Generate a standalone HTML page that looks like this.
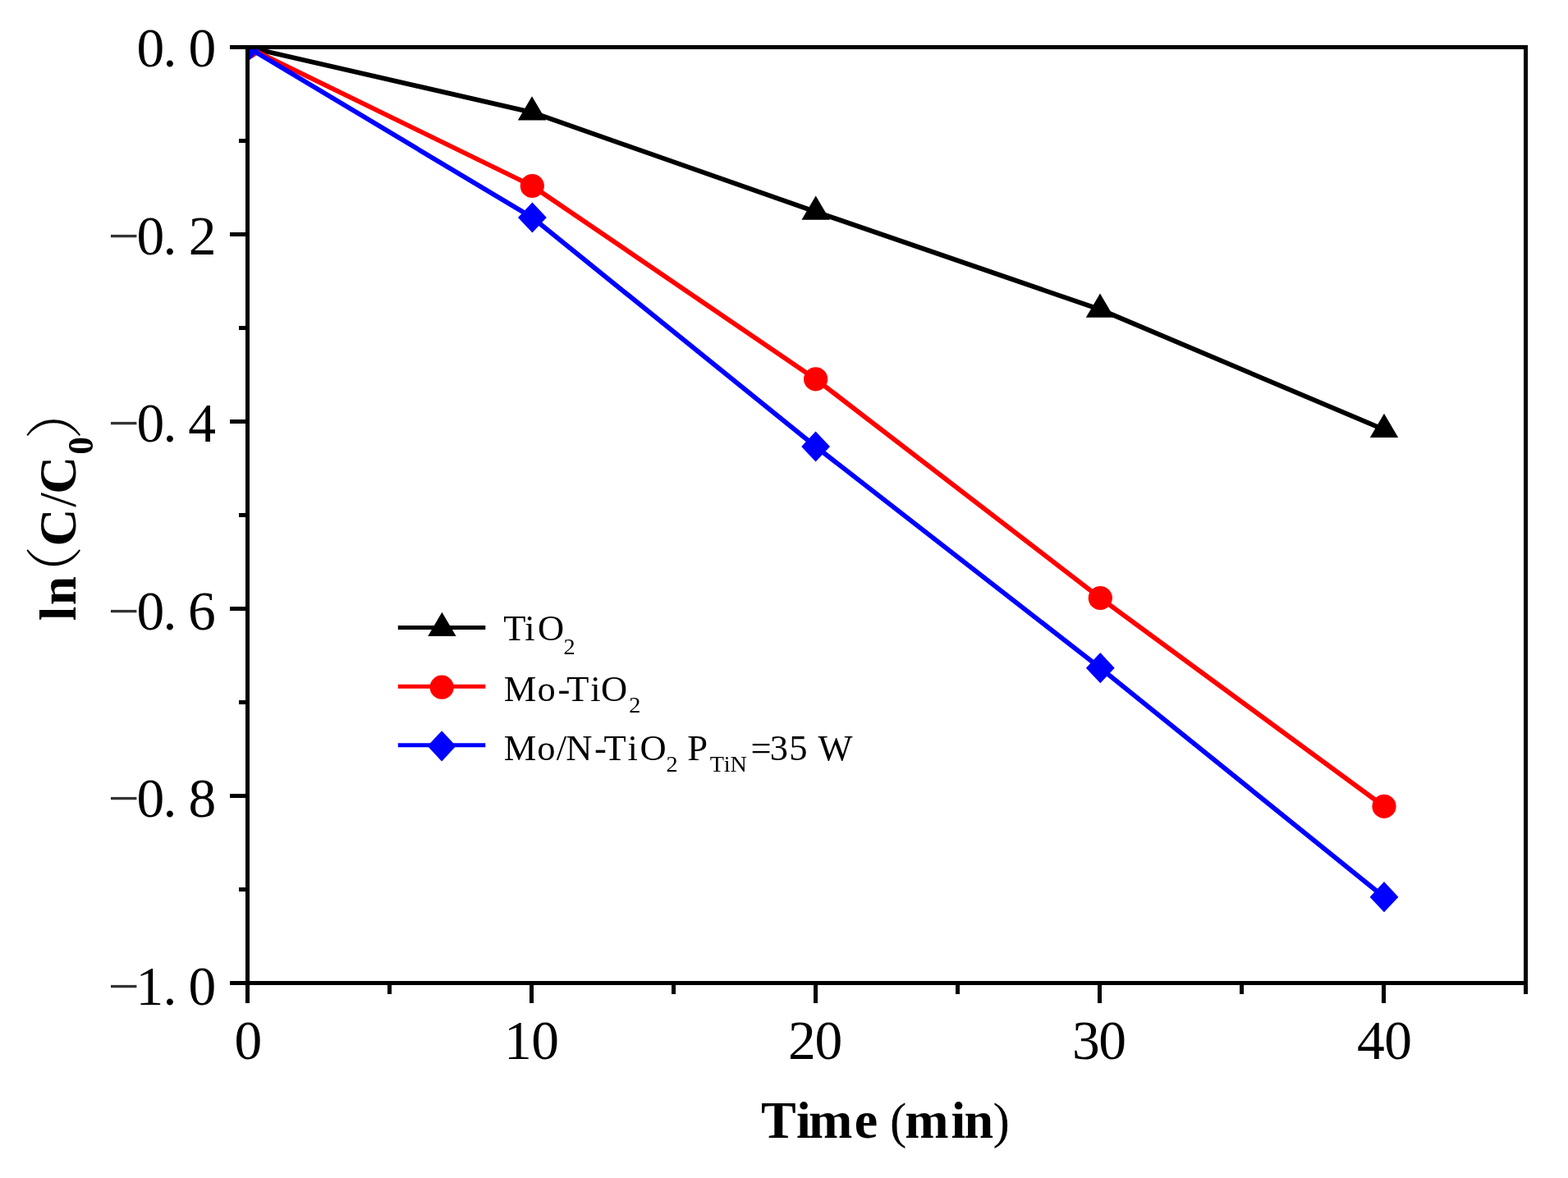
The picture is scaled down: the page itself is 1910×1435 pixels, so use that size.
<!DOCTYPE html>
<html><head><meta charset="utf-8"><title>ln(C/C0) vs Time</title>
<style>html,body{margin:0;padding:0;background:#fff;overflow:hidden;}svg{display:block;}</style>
</head><body>
<svg width="1910" height="1435" viewBox="0 0 1910 1435"><defs><clipPath id="pa"><rect x="301.5" y="57.5" width="1557" height="1140"/></clipPath></defs>
<g clip-path="url(#pa)">
<polyline points="301.5,57.5 648.0,136.8 993.7,258.0 1340.0,377.0 1686.0,523.3" fill="none" stroke="#000" stroke-width="5.8" stroke-linejoin="round"/>
<polygon points="301.5,38.0 284.3,67.2 318.7,67.2" fill="#000"/>
<polygon points="648.0,117.3 630.8,146.5 665.2,146.5" fill="#000"/>
<polygon points="993.7,238.5 976.5,267.7 1010.9,267.7" fill="#000"/>
<polygon points="1340.0,357.5 1322.8,386.7 1357.2,386.7" fill="#000"/>
<polygon points="1686.0,503.8 1668.8,533.0 1703.2,533.0" fill="#000"/>
<polyline points="301.5,57.5 648.3,226.5 993.6,461.8 1340.3,728.5 1686.0,982.3" fill="none" stroke="#f00" stroke-width="5.8" stroke-linejoin="round"/>
<circle cx="301.5" cy="57.5" r="14.6" fill="#f00"/>
<circle cx="648.3" cy="226.5" r="14.6" fill="#f00"/>
<circle cx="993.6" cy="461.8" r="14.6" fill="#f00"/>
<circle cx="1340.3" cy="728.5" r="14.6" fill="#f00"/>
<circle cx="1686.0" cy="982.3" r="14.6" fill="#f00"/>
<polyline points="301.5,57.5 648.4,265.0 993.6,544.0 1340.3,813.7 1686.0,1092.7" fill="none" stroke="#00f" stroke-width="5.8" stroke-linejoin="round"/>
<polygon points="301.5,38.9 318.9,57.5 301.5,76.1 284.1,57.5" fill="#00f"/>
<polygon points="648.4,246.4 665.8,265.0 648.4,283.6 631.0,265.0" fill="#00f"/>
<polygon points="993.6,525.4 1011.0,544.0 993.6,562.6 976.2,544.0" fill="#00f"/>
<polygon points="1340.3,795.1 1357.7,813.7 1340.3,832.3 1322.9,813.7" fill="#00f"/>
<polygon points="1686.0,1074.1 1703.4,1092.7 1686.0,1111.3 1668.6,1092.7" fill="#00f"/>
</g>
<g stroke="#000" stroke-width="5" fill="none" shape-rendering="crispEdges">
<rect x="301.5" y="57.5" width="1557.0" height="1140.0"/>
<line x1="280" y1="57.5" x2="301.5" y2="57.5"/>
<line x1="291" y1="171.5" x2="301.5" y2="171.5"/>
<line x1="280" y1="285.5" x2="301.5" y2="285.5"/>
<line x1="291" y1="399.5" x2="301.5" y2="399.5"/>
<line x1="280" y1="513.5" x2="301.5" y2="513.5"/>
<line x1="291" y1="627.5" x2="301.5" y2="627.5"/>
<line x1="280" y1="741.5" x2="301.5" y2="741.5"/>
<line x1="291" y1="855.5" x2="301.5" y2="855.5"/>
<line x1="280" y1="969.5" x2="301.5" y2="969.5"/>
<line x1="291" y1="1083.5" x2="301.5" y2="1083.5"/>
<line x1="280" y1="1197.5" x2="301.5" y2="1197.5"/>
<line x1="301.5" y1="1197.5" x2="301.5" y2="1221.5"/>
<line x1="474.5" y1="1197.5" x2="474.5" y2="1211"/>
<line x1="647.5" y1="1197.5" x2="647.5" y2="1221.5"/>
<line x1="820.5" y1="1197.5" x2="820.5" y2="1211"/>
<line x1="993.5" y1="1197.5" x2="993.5" y2="1221.5"/>
<line x1="1166.5" y1="1197.5" x2="1166.5" y2="1211"/>
<line x1="1339.5" y1="1197.5" x2="1339.5" y2="1221.5"/>
<line x1="1512.5" y1="1197.5" x2="1512.5" y2="1211"/>
<line x1="1685.5" y1="1197.5" x2="1685.5" y2="1221.5"/>
<line x1="1858.5" y1="1197.5" x2="1858.5" y2="1211"/>
</g>
<g font-family="'Liberation Serif', serif" font-size="67.5" fill="#000"><text x="166.4 198.6 229.4" y="81.2">0.0</text><text y="309.7"><tspan x="131.4" fill="#333">−</tspan><tspan x="166.4 198.6 229.8">0.2</tspan></text><text y="538.1"><tspan x="131.4" fill="#333">−</tspan><tspan x="166.4 198.6 229.2">0.4</tspan></text><text y="766.7"><tspan x="131.4" fill="#333">−</tspan><tspan x="166.4 198.6 228.9">0.6</tspan></text><text y="995.0"><tspan x="131.4" fill="#333">−</tspan><tspan x="166.4 198.6 229.4">0.8</tspan></text><text y="1223.5"><tspan x="131.4" fill="#333">−</tspan><tspan x="165.4 198.6 229.4">1.0</tspan></text></g>
<g font-family="'Liberation Serif', serif" font-size="67.5" fill="#000"><text x="285.5" y="1290.0">0</text><text x="614.1 647.2" y="1290.0">10</text><text x="960.0 992.5" y="1290.0">20</text><text x="1306.0 1338.2" y="1290.0">30</text><text x="1653.1 1686.2" y="1290.0">40</text></g>
<text y="1385.7" font-family="'Liberation Serif', serif" font-size="64" font-weight="bold" fill="#000"><tspan x="927.1 970.1 984.9 1040.8">Time</tspan> <tspan x="1083.9" font-weight="normal" font-size="61">(</tspan><tspan x="1102.2 1158.6 1174.6">min</tspan><tspan x="1209.5" font-weight="normal" font-size="61">)</tspan></text>
<text transform="translate(91.9,760) rotate(-90)" y="0" font-family="'Liberation Serif', 'Noto Serif CJK SC', serif" font-size="63.5" font-weight="bold" fill="#000"><tspan x="3.7 22.8">ln</tspan><tspan x="25.0" font-family="'Noto Serif CJK SC', serif" font-weight="300" font-size="70.2">（</tspan><tspan x="94.6">C</tspan><tspan x="142.2" font-weight="normal">/</tspan><tspan x="158.2">C</tspan><tspan x="206.3" y="20.6" font-size="43.4">0</tspan><tspan x="224.6" y="0" font-family="'Noto Serif CJK SC', serif" font-weight="300" font-size="70.2">）</tspan></text>
<line x1="484.8" y1="764.6" x2="591.3" y2="764.6" stroke="#000" stroke-width="5"/>
<polygon points="538.4,745.8 521.2,775.0 555.6,775.0" fill="#000"/>
<line x1="484.8" y1="836.2" x2="591.3" y2="836.2" stroke="#f00" stroke-width="5"/>
<circle cx="538.2" cy="837.2" r="14.6" fill="#f00"/>
<line x1="484.8" y1="907.8" x2="591.3" y2="907.8" stroke="#00f" stroke-width="5"/>
<polygon points="538.1,890.2 555.5,908.8 538.1,927.4 520.7,908.8" fill="#00f"/>
<g font-family="'Liberation Serif', serif" font-size="44.5" fill="#000"><text y="780.3"><tspan x="613.3 639.2 654.9">TiO</tspan><tspan x="686.6" y="796.5" font-size="28.2">2</tspan></text><text y="854.3"><tspan x="613.8 654.4 679.5 690.3 719.2 731.9">Mo-TiO</tspan><tspan x="766.2" y="867.7" font-size="28.2">2</tspan></text><text y="926.3"><tspan x="613.8 654.2 677.8 689.3 724.0 735.6 764.4 779.5">Mo/N-TiO</tspan><tspan x="811.6" y="939.7" font-size="28.2">2</tspan><tspan y="926.3"> </tspan><tspan x="837.3" y="926.3">P</tspan><tspan x="864.7 881.8 889.4" y="939.5" font-size="28.2">TiN</tspan><tspan x="914.4 937.7 961.2" y="926.3">=35</tspan> <tspan x="996.4">W</tspan></text></g></svg>
</body></html>
